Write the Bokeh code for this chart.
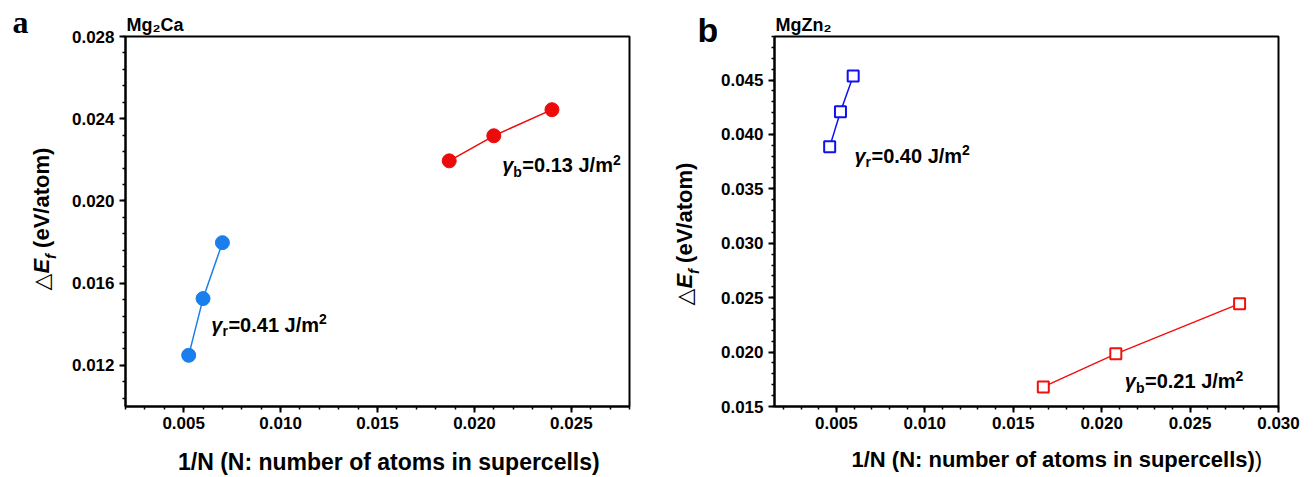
import math
from bokeh.plotting import figure
from bokeh.models import Range1d, FixedTicker, PrintfTickFormatter, Label, Title
from bokeh.layouts import row, column
from bokeh.embed import file_html
from bokeh.resources import INLINE

# ---------------- data ----------------
# panel a : Mg2Ca
a_rot_x = [0.00526, 0.00600, 0.00700]
a_rot_y = [0.01249, 0.01525, 0.01797]
a_bas_x = [0.0187, 0.0210, 0.0240]
a_bas_y = [0.02195, 0.02317, 0.02444]
# panel b : MgZn2
b_rot_x = [0.00462, 0.00523, 0.00595]
b_rot_y = [0.03886, 0.04208, 0.04537]
b_bas_x = [0.0167, 0.0208, 0.0278]
b_bas_y = [0.0168, 0.01984, 0.02445]

a_xticks = [0.005, 0.010, 0.015, 0.020, 0.025]
a_yticks = [0.012, 0.016, 0.020, 0.024, 0.028]
b_xticks = [0.005, 0.010, 0.015, 0.020, 0.025, 0.030]
b_yticks = [0.015, 0.020, 0.025, 0.030, 0.035, 0.040, 0.045]

a_title = "Mg₂Ca"
b_title = "MgZn₂"
a_rot_txt = ["r", "=0.41 J/m"]
a_bas_txt = ["b", "=0.13 J/m"]
b_rot_txt = ["r", "=0.40 J/m"]
b_bas_txt = ["b", "=0.21 J/m"]
xlabel = "1/N (N: number of atoms in supercells)"

# ---------------- helpers ----------------
SANS = "Liberation Sans"
K_H = 0.37   # baseline correction (horizontal text)
K_R = 0.50   # baseline correction (rotated text)
W = {' ': 278, '(': 333, ')': 333, '/': 278, '.': 278, ':': 333, '=': 584,
     'A': 722, 'C': 722, 'E': 667, 'J': 556, 'M': 833, 'N': 722, 'V': 667, 'Z': 611,
     'a': 556, 'b': 611, 'c': 556, 'e': 556, 'f': 333, 'g': 611, 'i': 278, 'l': 278,
     'm': 889, 'n': 611, 'o': 611, 'p': 611, 'r': 389, 's': 556, 't': 333, 'u': 611,
     'γ': 556, '△': 770}


def tw(s, size):
    return sum(W.get(c, 556) for c in s) * size / 1000.0


def rich(p, x, y, pieces, angle=0.0, align="left"):
    """pieces: (text, size, style, font, shift, gap_before)"""
    total = sum(tw(t, s) + g for t, s, _, _, _, g in pieces)
    adv = -total / 2 if align == "center" else 0.0
    for text, size, style, font, shift, gap in pieces:
        adv += gap
        if angle == 0:
            xo, yo = adv, shift + K_H * size
        else:
            xo, yo = -shift - K_R * size, adv
        p.add_layout(Label(x=x, y=y, x_offset=xo, y_offset=yo, text=text,
                           text_font=font, text_font_size=f"{size}px",
                           text_font_style=style, text_color="black",
                           angle=angle, text_align="left",
                           text_baseline="alphabetic"))
        adv += tw(text, size)


def text_fig(w, h):
    p = figure(width=w, height=h, x_range=Range1d(0, w), y_range=Range1d(h, 0),
               output_backend="svg", toolbar_location=None, min_border=0,
               x_axis_type=None, y_axis_type=None, title=None)
    p.outline_line_color = None
    p.background_fill_color = "white"
    p.border_fill_color = "white"
    return p


def make_fig(width, height, left, right, top, bottom, xr, yr, xt, xminor, yt, yminor, title):
    p = figure(width=width, height=height, title=None,
               x_range=Range1d(*xr), y_range=Range1d(*yr),
               output_backend="svg", toolbar_location=None,
               min_border_left=left, min_border_right=right,
               min_border_top=top, min_border_bottom=bottom)
    p.title = Title(text=title, align="left", offset=1, standoff=4,
                    text_font=SANS, text_font_style="bold", text_font_size="18px",
                    text_color="black")
    p.xgrid.visible = False
    p.ygrid.visible = False
    p.outline_line_color = "black"
    p.outline_line_width = 2
    p.outline_line_alpha = 1
    p.background_fill_color = "white"
    p.border_fill_color = "white"
    p.xaxis.ticker = FixedTicker(ticks=xt, minor_ticks=xminor)
    p.yaxis.ticker = FixedTicker(ticks=yt, minor_ticks=yminor)
    p.xaxis.formatter = PrintfTickFormatter(format="%.3f")
    p.yaxis.formatter = PrintfTickFormatter(format="%.3f")
    for ax in (p.xaxis[0], p.yaxis[0]):
        ax.axis_line_width = 2
        ax.axis_line_color = "black"
        ax.major_tick_line_width = 2
        ax.minor_tick_line_width = 1.5
        ax.major_tick_in = 0
        ax.major_tick_out = 6
        ax.minor_tick_in = 0
        ax.minor_tick_out = 3
        ax.major_label_text_font = SANS
        ax.major_label_text_font_style = "bold"
        ax.major_label_text_font_size = "17px"
        ax.major_label_text_color = "black"
    p.xaxis.major_label_standoff = 4
    p.yaxis.major_label_standoff = 5
    return p


def gamma_label(p, x, y, txt):
    rich(p, x, y, [("γ", 20, "bold italic", SANS, 0, 0), (txt[0], 14, "bold", SANS, -4, 0),
                   (txt[1], 20, "bold", SANS, 0, 0.5), ("2", 14, "bold", SANS, 8, 0)])


def ylabel(p, x, y):
    rich(p, x, y, [("△", 22, "normal", "DejaVu Sans", 0, 0), ("E", 22, "bold italic", SANS, 0, 0),
                   ("f", 15, "bold italic", SANS, -5, 0), ("(eV/atom)", 22, "bold", SANS, 0, 6)],
         angle=math.pi / 2)


# layout geometry (pixels)
MAIN_H, BOT_H = 446, 31

# ---------------- panel a ----------------
a_xminor = [round(0.002 + 0.001 * i, 4) for i in range(27)]
a_yminor = [round(0.0104 + 0.0008 * i, 5) for i in range(23)]
pa = make_fig(601, MAIN_H, 63, 34, 36, 40, (0.002, 0.028), (0.010, 0.028),
              a_xticks, a_xminor, a_yticks, a_yminor, a_title)
c_blue_a = "#1A7EEC"
c_red_a = "#EC0A0A"
pa.line(a_rot_x, a_rot_y, line_color=c_blue_a, line_width=1.5)
pa.scatter(a_rot_x, a_rot_y, marker="circle", size=14, fill_color=c_blue_a, line_color=c_blue_a)
pa.line(a_bas_x, a_bas_y, line_color=c_red_a, line_width=1.5)
pa.scatter(a_bas_x, a_bas_y, marker="circle", size=14, fill_color=c_red_a, line_color=c_red_a)
gamma_label(pa, 0.00643, 0.01361, a_rot_txt)
gamma_label(pa, 0.02143, 0.02137, a_bas_txt)

left_a = text_fig(62, 477)
rich(left_a, 12, 33, [("a", 32, "bold", "Liberation Serif", 0, 0)])
ylabel(left_a, 52, 290)

bot_a = text_fig(601, BOT_H)
rich(bot_a, 314, 24, [(xlabel, 23, "bold", SANS, 0, 0)], align="center")

# ---------------- panel b ----------------
b_xminor = [round(0.002 + 0.001 * i, 4) for i in range(29)]
b_yminor = [round(0.015 + 0.001 * i, 4) for i in range(35)]
pb = make_fig(596, MAIN_H, 56, 35, 36, 40, (0.0015, 0.030), (0.015, 0.049),
              b_xticks, b_xminor, b_yticks, b_yminor, b_title)
c_blue_b = "#1010F0"
c_red_b = "#F01010"
pb.line(b_rot_x, b_rot_y, line_color=c_blue_b, line_width=1.5)
pb.scatter(b_rot_x, b_rot_y, marker="square", size=11, fill_color="white", line_color=c_blue_b, line_width=2)
pb.line(b_bas_x, b_bas_y, line_color=c_red_b, line_width=1.5)
pb.scatter(b_bas_x, b_bas_y, marker="square", size=11, fill_color="white", line_color=c_red_b, line_width=2)
gamma_label(pb, 0.00602, 0.03736, b_rot_txt)
gamma_label(pb, 0.02131, 0.01663, b_bas_txt)

left_b = text_fig(54, 477)
rich(left_b, 34, 42, [("b", 34, "bold", SANS, 0, 0)])
ylabel(left_b, 32, 305)

bot_b = text_fig(596, BOT_H)
rich(bot_b, 91, 21, [(xlabel, 22, "bold", SANS, 0, 0), (")", 22, "normal", SANS, 0, 0)])

layout = row(left_a, column(pa, bot_a), left_b, column(pb, bot_b))
open("out.html", "w").write(file_html(layout, INLINE))
